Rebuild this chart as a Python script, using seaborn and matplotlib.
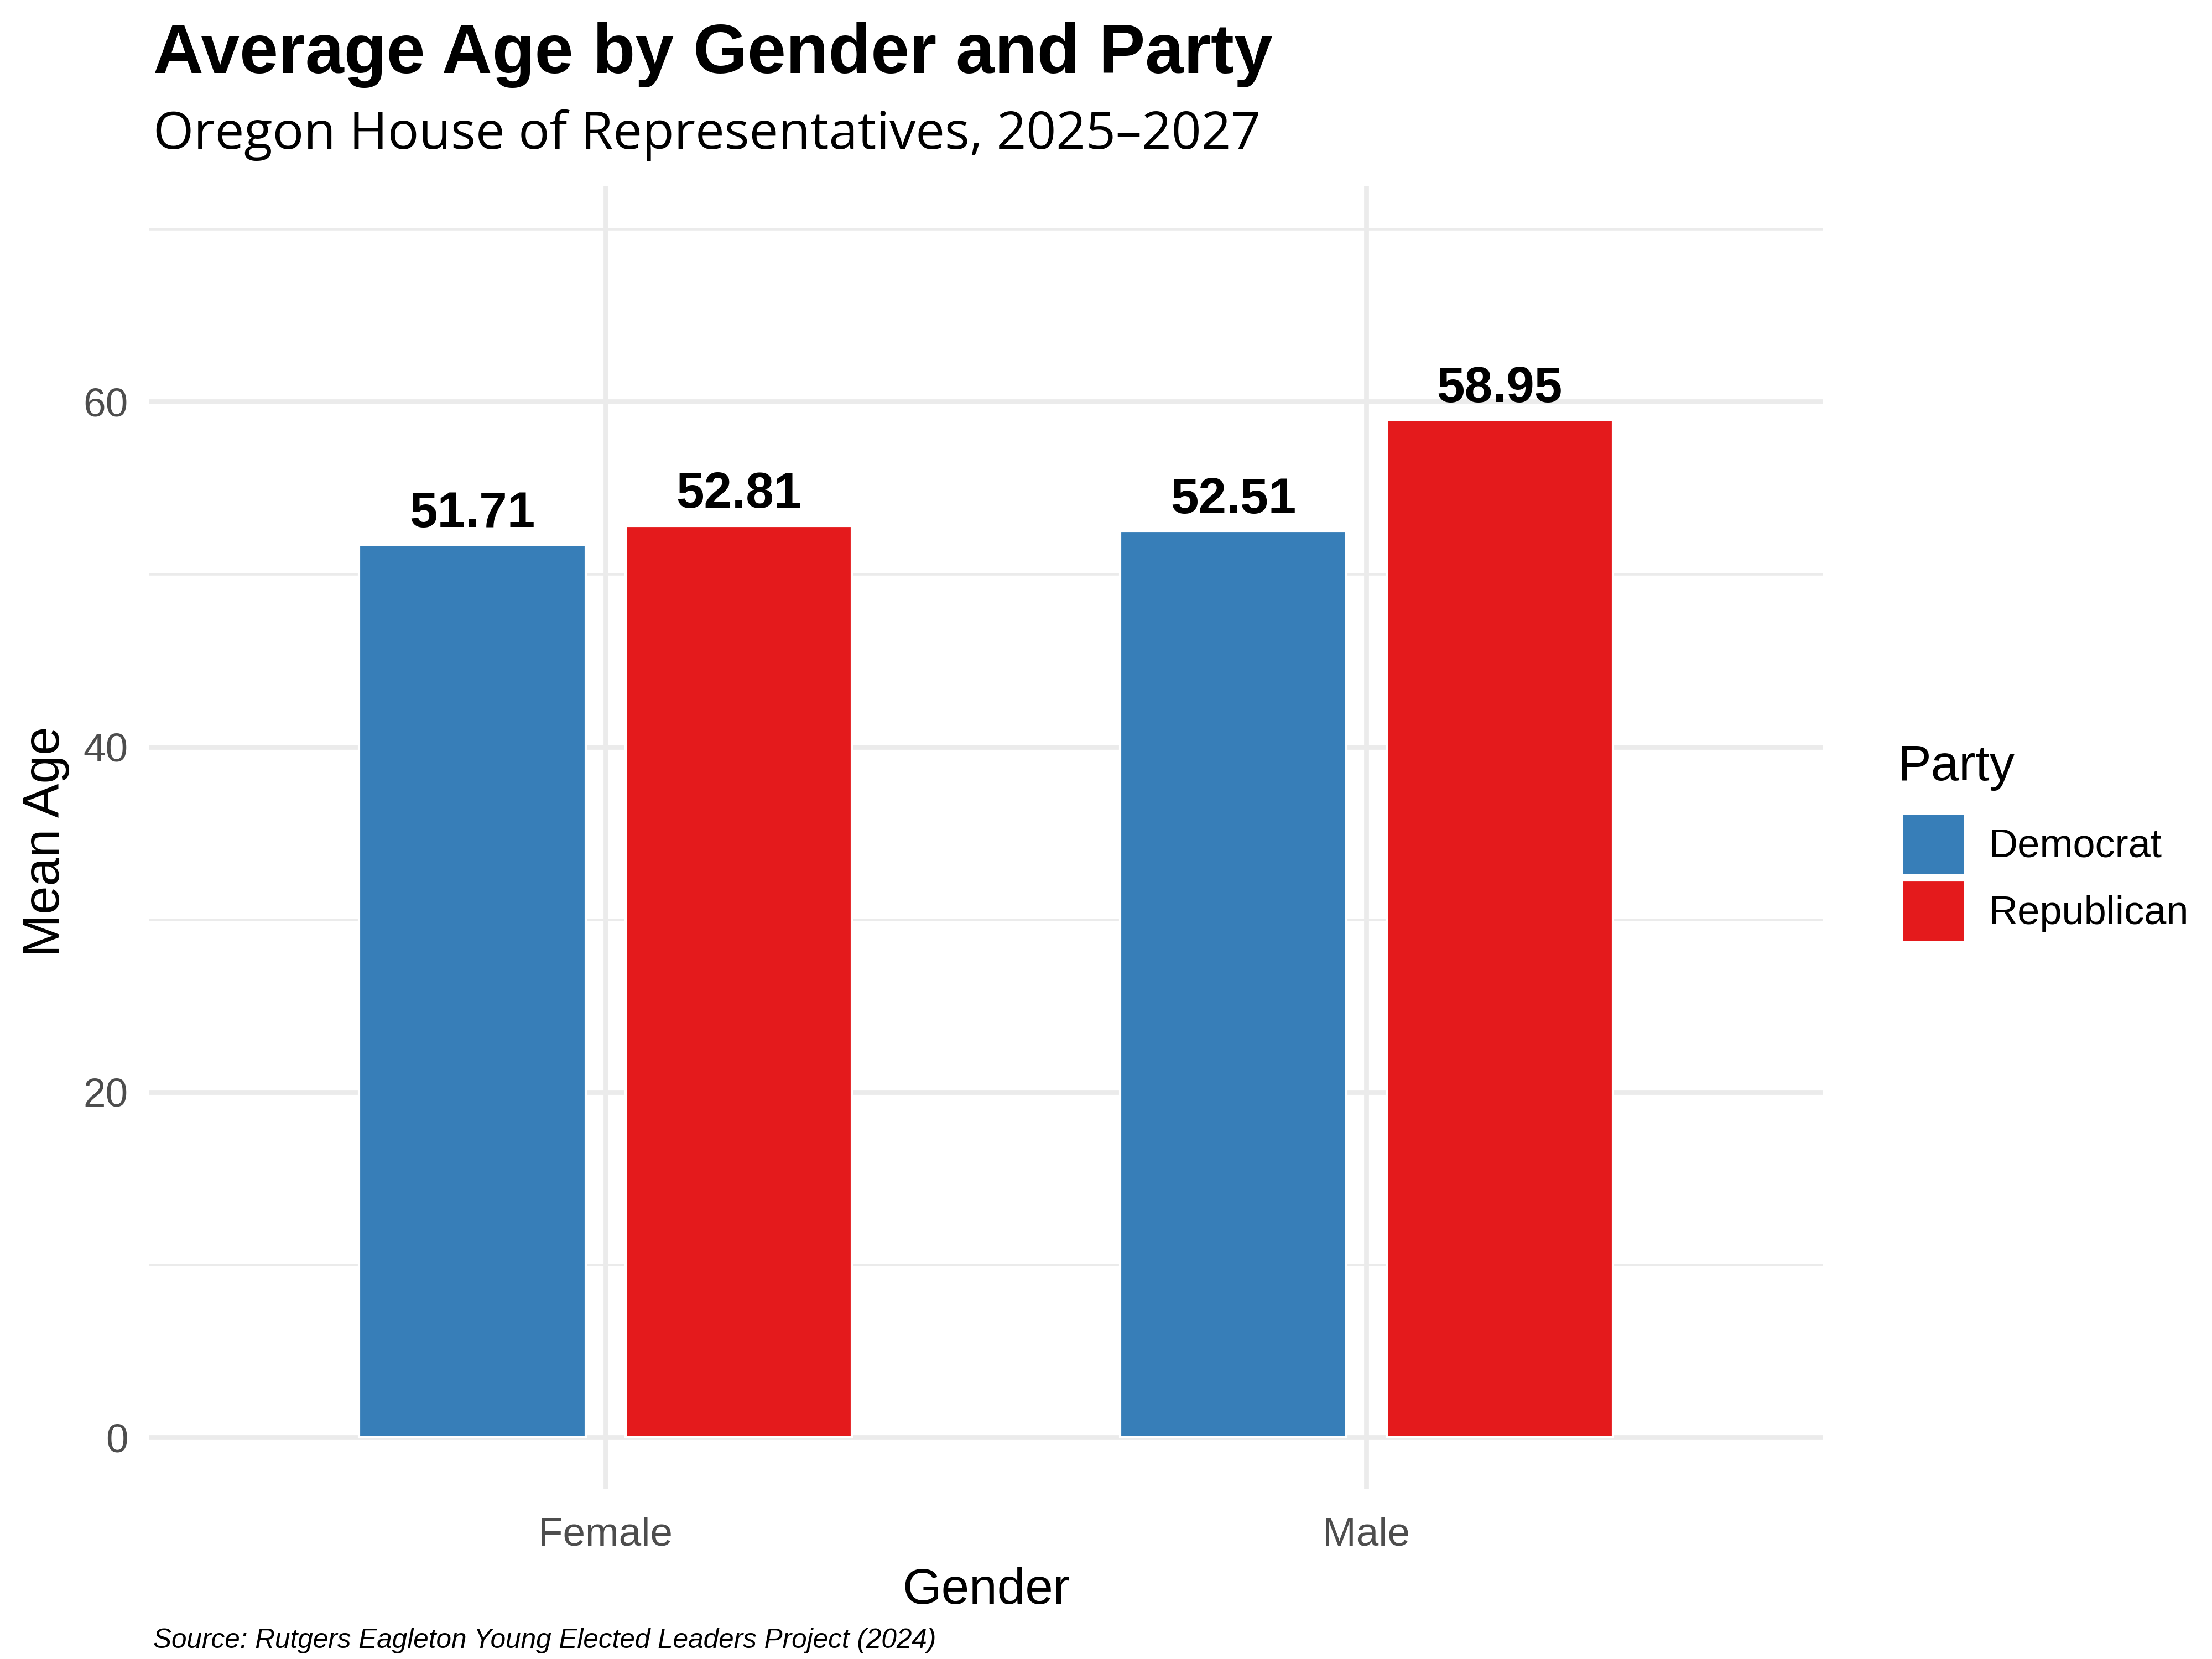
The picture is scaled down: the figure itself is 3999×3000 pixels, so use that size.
import pandas as pd
import seaborn as sns
import matplotlib.pyplot as plt
from matplotlib.ticker import FixedLocator

# data
genders = ["Female", "Male"]
parties = ["Democrat", "Republican"]
dem_ages = [51.71, 52.51]
rep_ages = [52.81, 58.95]
party_colors = ["#377EB8", "#E41A1C"]
y_major = [0, 20, 40, 60]
y_minor = [10, 30, 50, 70]

title = "Average Age by Gender and Party"
subtitle = "Oregon House of Representatives, 2025\u20132027"
caption = "Source: Rutgers Eagleton Young Elected Leaders Project (2024)"


def build_frame() -> pd.DataFrame:
    rows = []
    for party, ages in zip(parties, [dem_ages, rep_ages]):
        for gender, age in zip(genders, ages):
            rows.append({"Gender": gender, "Party": party, "Age": age})
    return pd.DataFrame(rows)


def main():
    sns.set_theme(style="white")
    plt.rcParams["font.family"] = ["Liberation Sans", "DejaVu Sans"]
    plt.rcParams["text.color"] = "black"
    plt.rcParams["axes.labelcolor"] = "black"

    df = build_frame()

    fig = plt.figure(figsize=(13.333, 10), dpi=300)
    ax = fig.add_axes([0.0673, 0.1024, 0.824 - 0.0673, 0.888 - 0.1024])

    sns.barplot(data=df, x="Gender", y="Age", hue="Party", order=genders,
                hue_order=parties, palette=party_colors, width=0.7, gap=0.15,
                saturation=1, errorbar=None, ax=ax, zorder=3)

    for cont in ax.containers:
        ax.bar_label(cont, fmt="%.2f", padding=3.2, fontsize=21.8,
                     fontweight="bold", color="black")

    ax.set_xlim(-0.6, 1.6)
    ax.set_ylim(-3, 72.5)
    ax.yaxis.set_major_locator(FixedLocator(y_major))
    ax.yaxis.set_minor_locator(FixedLocator(y_minor))
    ax.set_axisbelow(True)
    ax.grid(which="major", axis="both", color="#EBEBEB", lw=2.1, zorder=0)
    ax.grid(which="minor", axis="y", color="#EBEBEB", lw=1.1, zorder=0)
    for sp in ax.spines.values():
        sp.set_visible(False)
    ax.tick_params(axis="both", which="both", length=0, labelsize=17.5,
                   labelcolor="#4D4D4D")
    ax.tick_params(axis="x", pad=12)
    ax.tick_params(axis="y", pad=9)

    ax.set_xlabel("Gender", fontsize=21.8)
    ax.set_ylabel("Mean Age", fontsize=22.2)
    ax.xaxis.set_label_coords(0.5, -0.060)
    ax.yaxis.set_label_coords(-0.0472, 0.497)

    # legend: title as its own text, keys placed below it
    handles, labels = ax.get_legend_handles_labels()
    ax.legend(handles, labels, loc="upper left",
              bbox_to_anchor=(0.8595, 0.5098), bbox_transform=fig.transFigure,
              frameon=False, fontsize=17.3,
              handlelength=1.6, handleheight=2.02, handletextpad=0.58,
              labelspacing=0.127, borderpad=0, borderaxespad=0)
    fig.text(0.8576, 0.5297, "Party", fontsize=21.8, va="baseline",
             ha="left")

    fig.text(0.0693, 0.9561, title, fontsize=30.2, fontweight="bold",
             va="baseline", ha="left")
    fig.text(0.0693, 0.9102, subtitle, fontsize=22.6, family="Open Sans",
             va="baseline", ha="left")
    fig.text(0.0693, 0.0065, caption, fontsize=11.9, style="italic",
             va="baseline", ha="left")

    fig.savefig("out.png", dpi=300)


if __name__ == "__main__":
    main()
